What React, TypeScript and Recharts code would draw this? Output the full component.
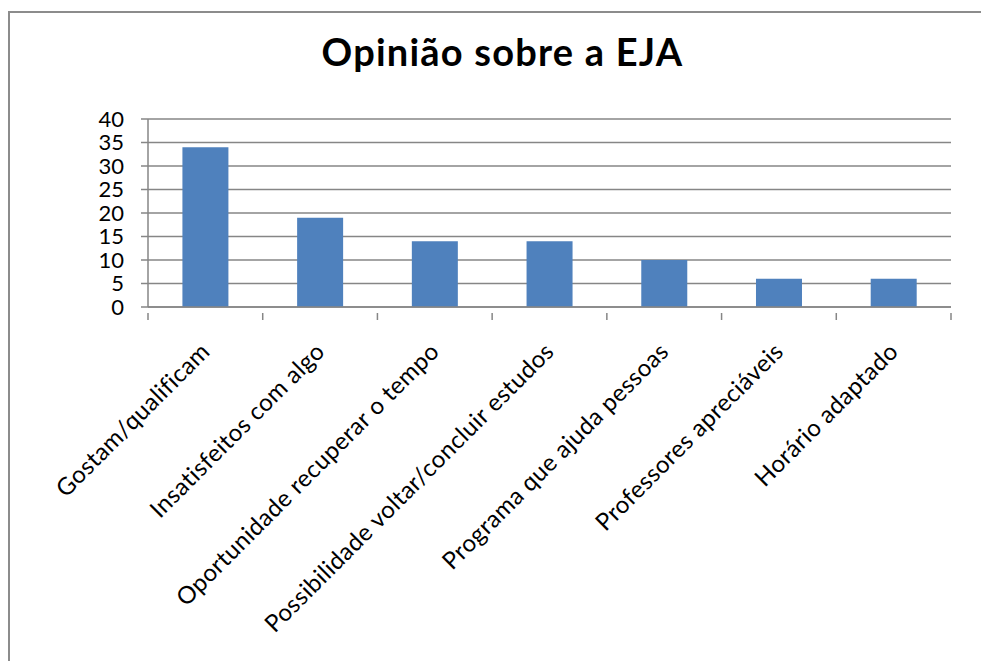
import { BarChart, Bar, XAxis, YAxis, CartesianGrid } from 'recharts';

const categories = [
  'Gostam/qualificam',
  'Insatisfeitos com algo',
  'Oportunidade recuperar o tempo',
  'Possibilidade voltar/concluir estudos',
  'Programa que ajuda pessoas',
  'Professores apreciáveis',
  'Horário adaptado',
];
const counts = [34, 19, 14, 14, 10, 6, 6];
const yTicks = [0, 5, 10, 15, 20, 25, 30, 35, 40];

const data = categories.map((name, i) => ({ name, value: counts[i] }));

const AXIS = '#868686';
const FONT = 'Lato, "Open Sans", sans-serif';

function CategoryTick(props: any) {
  const { x, y, payload, index, width } = props;
  const band = (width || 803) / categories.length;
  const axisY = y - 2;
  const ax = x + 6;
  const ay = axisY + 40;
  return (
    <g>
      {index === 0 && (
        <line x1={x - band / 2} x2={x - band / 2} y1={axisY} y2={axisY + 7} stroke={AXIS} strokeWidth={1.5} />
      )}
      <line x1={x + band / 2} x2={x + band / 2} y1={axisY} y2={axisY + 7} stroke={AXIS} strokeWidth={1.5} />
      <text
        x={ax}
        y={ay}
        textAnchor="end"
        fontSize={24}
        letterSpacing={0.4}
        fontFamily={FONT}
        fill="#000"
        transform={`rotate(-45, ${ax}, ${ay})`}
      >
        {payload.value}
      </text>
    </g>
  );
}

export default function App() {
  return (
    <div style={{ position: 'relative', width: 981, height: 661, background: '#fff', overflow: 'hidden' }}>
      <style>{'body{margin:0;overflow:hidden}'}</style>
      <div
        style={{
          position: 'absolute',
          left: 8,
          top: 11,
          width: 990,
          height: 700,
          borderTop: '2px solid #8c8c8c',
          borderLeft: '2px solid #8c8c8c',
        }}
      />
      <div
        style={{
          position: 'absolute',
          left: 8,
          width: 989,
          top: 28,
          textAlign: 'center',
          fontFamily: FONT,
          fontWeight: 'bold',
          fontSize: 38,
          letterSpacing: 1.2,
          color: '#000',
        }}
      >
        Opinião sobre a EJA
      </div>
      <div style={{ position: 'absolute', left: 0, top: 0 }}>
        <BarChart
          width={981}
          height={661}
          data={data}
          margin={{ top: 119, right: 30, left: 0, bottom: 0 }}
          barCategoryGap="30%"
        >
          <CartesianGrid vertical={false} stroke={AXIS} strokeWidth={1.3} />
          <XAxis
            dataKey="name"
            interval={0}
            height={354}
            stroke={AXIS}
            strokeWidth={1.5}
            tickLine={false}
            tick={<CategoryTick />}
          />
          <YAxis
            width={148}
            domain={[0, 40]}
            ticks={yTicks}
            interval={0}
            stroke={AXIS}
            strokeWidth={1.5}
            tickSize={7}
            tickMargin={17}
            tick={{ fill: '#000', fontSize: 22, fontFamily: FONT }}
          />
          <Bar dataKey="value" fill="#4F81BD" isAnimationActive={false} />
        </BarChart>
      </div>
    </div>
  );
}
